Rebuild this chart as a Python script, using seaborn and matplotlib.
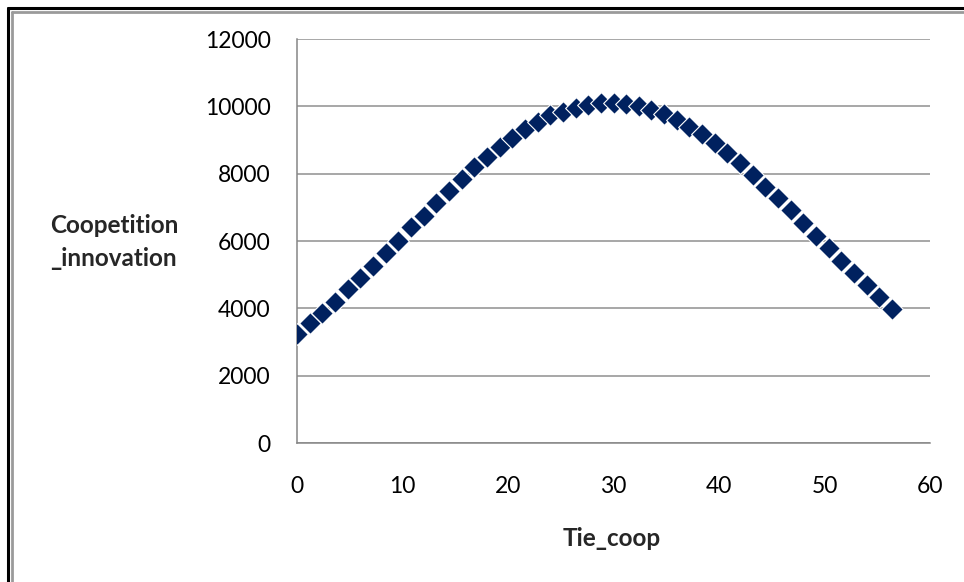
import matplotlib
matplotlib.use("Agg")
import matplotlib.pyplot as plt
from matplotlib.lines import Line2D
import seaborn as sns
import pandas as pd

# Tie_coop values and the matching Coopetition_innovation outcomes
tie_coop = [round(1.2 * i, 1) for i in range(48)]
coopetition_innovation = [
    3237, 3555, 3852, 4197, 4565, 4891, 5257, 5634, 6008, 6406,
    6751, 7119, 7484, 7841, 8188, 8485, 8800, 9049, 9317, 9543,
    9742, 9840, 9960, 10050, 10090, 10110, 10080, 10010, 9900, 9770,
    9590, 9400, 9180, 8910, 8600, 8320, 7960, 7610, 7270, 6920,
    6530, 6160, 5780, 5400, 5060, 4690, 4340, 3970,
]
x_ticks = [0, 10, 20, 30, 40, 50, 60]
y_ticks = [0, 2000, 4000, 6000, 8000, 10000, 12000]

df = pd.DataFrame({"Tie_coop": tie_coop,
                   "Coopetition_innovation": coopetition_innovation})

sns.set_style("white")
plt.rcParams["font.family"] = ["Lato", "DejaVu Sans"]

W, H = 964, 582
fig = plt.figure(figsize=(W / 100, H / 100), dpi=100)
ax = fig.add_axes([297 / W, 1 - 443 / H, (930 - 297) / W, (443 - 39) / H])

sns.scatterplot(data=df, x="Tie_coop", y="Coopetition_innovation", ax=ax,
                marker="D", s=122, color="#00215f", edgecolor="white",
                linewidth=0.8, zorder=3)

ax.set_xlim(0, 60)
ax.set_ylim(0, 12000)
ax.set_xticks(x_ticks)
ax.set_yticks(y_ticks)
ax.set_xticklabels([str(v) for v in x_ticks])
ax.set_yticklabels([str(v) for v in y_ticks])
ax.set_xlabel("")
ax.set_ylabel("")

grid_col = "#a0a0a0"
axis_col = "#868686"
ax.yaxis.grid(True, color=grid_col, linewidth=1.3)
ax.xaxis.grid(False)
for side in ["top", "right"]:
    ax.spines[side].set_visible(False)
for side in ["left", "bottom"]:
    ax.spines[side].set_color(axis_col)
    ax.spines[side].set_linewidth(1.1)

ax.tick_params(axis="both", which="both", direction="out", length=5,
               width=1.0, color=axis_col, labelsize=16.5, labelcolor="#000000")
ax.tick_params(axis="y", pad=14)
ax.tick_params(axis="x", pad=19)

fig.text(50 / W, 1 - 242 / H, "Coopetition\n_innovation", ha="left",
         va="center", fontsize=17.5, fontweight="bold", linespacing=1.5)
fig.text(612 / W, 1 - 538 / H, "Tie_coop", ha="center", va="center",
         fontsize=17.5, fontweight="bold")

# Frame along the top and left edges
fig.add_artist(Line2D([8 / W, 8 / W], [0, 1 - 8 / H], transform=fig.transFigure,
                      color="black", linewidth=2.2))
fig.add_artist(Line2D([8 / W, 1], [1 - 8 / H, 1 - 8 / H], transform=fig.transFigure,
                      color="black", linewidth=2.2))
fig.add_artist(Line2D([11.5 / W, 11.5 / W], [0, 1 - 11.5 / H], transform=fig.transFigure,
                      color="#9a9a9a", linewidth=2.0))
fig.add_artist(Line2D([11.5 / W, 1], [1 - 11.5 / H, 1 - 11.5 / H], transform=fig.transFigure,
                      color="#9a9a9a", linewidth=2.0))

fig.savefig("out.png", dpi=100, facecolor="white")
